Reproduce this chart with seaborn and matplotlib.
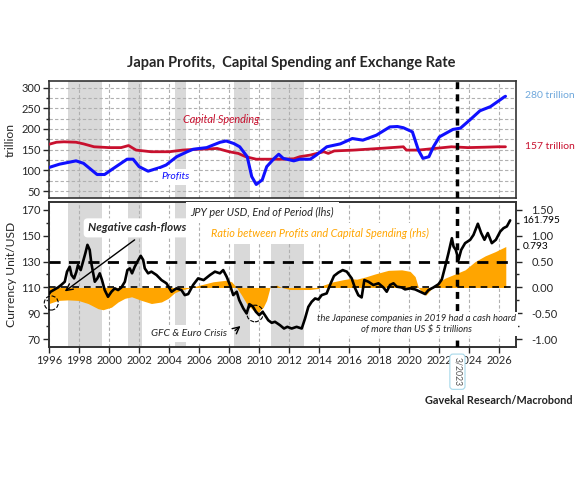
import numpy as np
import pandas as pd
import seaborn as sns
import matplotlib.pyplot as plt
from matplotlib.patches import Ellipse
from matplotlib.transforms import blended_transform_factory
from matplotlib.ticker import MultipleLocator

# top panel, trillion yen
capex_year = [1996.0, 1996.5, 1997.0, 1997.8, 1998.3, 1999.0, 2000.0, 2000.8, 2001.3, 2001.8,
              2002.8, 2004.0, 2004.9, 2005.8, 2006.7, 2007.2, 2008.0, 2008.6, 2009.1, 2009.8,
              2010.5, 2011.5, 2012.3, 2012.7, 2013.4, 2014.3, 2014.6, 2015.0, 2016.3, 2018.0,
              2019.6, 2019.8, 2020.6, 2021.7, 2022.8, 2023.9, 2025.0, 2025.9, 2026.4]
capex = [163, 168, 169, 168, 164, 157, 155, 155, 160, 149,
         145, 145, 149, 151, 152, 153, 145, 141, 133, 127,
         127, 127, 128, 133, 137, 145, 141, 147, 149, 153,
         157, 149, 149, 153, 157, 155, 156, 157, 157]

profit_year = [1996.0, 1996.7, 1997.8, 1998.3, 1999.2, 1999.7, 2000.3, 2001.2, 2001.6, 2002.0,
               2002.6, 2003.4, 2003.8, 2004.5, 2005.2, 2005.6, 2006.5, 2007.4, 2007.8, 2008.3,
               2008.7, 2009.2, 2009.5, 2009.8, 2010.2, 2010.5, 2011.0, 2011.3, 2011.6, 2012.3,
               2012.7, 2013.4, 2013.8, 2014.5, 2015.4, 2016.2, 2016.9, 2017.8, 2018.7, 2019.2,
               2019.6, 2020.2, 2020.6, 2020.9, 2021.3, 2021.6, 2022.0, 2022.9, 2023.4, 2024.0,
               2024.7, 2025.4, 2026.3, 2026.4]
profit = [107, 115, 123, 117, 90, 90, 105, 127, 127, 109,
          98, 107, 113, 133, 145, 151, 155, 168, 171, 165,
          157, 133, 85, 66, 77, 109, 129, 139, 129, 123,
          127, 127, 137, 157, 164, 177, 173, 185, 205, 206,
          203, 193, 149, 129, 133, 157, 181, 199, 202, 221,
          244, 254, 277, 279]

# bottom panel: JPY per USD (lhs)
jpy_year = [1996.0, 1996.11, 1996.38, 1996.6, 1996.82, 1997.05, 1997.2, 1997.38, 1997.5, 1997.67,
            1997.82, 1997.93, 1998.11, 1998.27, 1998.42, 1998.56, 1998.71, 1998.82, 1999.05, 1999.22,
            1999.38, 1999.53, 1999.71, 1999.93, 2000.16, 2000.38, 2000.6, 2000.82, 2001.05, 2001.22,
            2001.38, 2001.53, 2001.71, 2001.89, 2002.11, 2002.27, 2002.38, 2002.6, 2002.82, 2003.16,
            2003.49, 2003.82, 2004.16, 2004.49, 2004.82, 2005.04, 2005.27, 2005.6, 2005.93, 2006.3,
            2006.72, 2007.05, 2007.38, 2007.6, 2007.83, 2008.05, 2008.27, 2008.5, 2008.67, 2008.94,
            2009.16, 2009.34, 2009.56, 2009.78, 2010.0, 2010.23, 2010.38, 2010.6, 2010.83, 2011.05,
            2011.38, 2011.65, 2011.87, 2012.16, 2012.49, 2012.83, 2013.05, 2013.27, 2013.49, 2013.72,
            2013.94, 2014.16, 2014.49, 2014.76, 2014.98, 2015.27, 2015.56, 2015.83, 2016.16, 2016.38,
            2016.6, 2016.82, 2017.0, 2017.27, 2017.6, 2017.94, 2018.27, 2018.49, 2018.71, 2018.94,
            2019.16, 2019.49, 2019.71, 2020.05, 2020.38, 2020.71, 2021.05, 2021.27, 2021.6, 2021.94,
            2022.16, 2022.38, 2022.6, 2022.83, 2022.94, 2023.09, 2023.27, 2023.45, 2023.71, 2024.05,
            2024.27, 2024.56, 2024.78, 2025.0, 2025.22, 2025.49, 2025.76, 2026.05, 2026.27, 2026.49,
            2026.71]
jpy = [105, 106.7, 108.5, 110, 112, 114.4, 122.2, 126, 119.6, 117,
       122, 127.3, 123.4, 130, 136.4, 142.9, 139, 128.6, 114.4, 117,
       120.9, 115.7, 108, 102.8, 106.7, 109.3, 108, 110, 114.4, 123.4,
       124.7, 120.9, 126, 130, 134.4, 131.3, 124.7, 120.9, 122.2, 119.6,
       115.7, 113.2, 106.7, 109.3, 108, 104.1, 104.9, 112, 117, 115.7,
       119.6, 122.2, 120.9, 123.4, 118.3, 111.9, 104.1, 106.7, 100.2, 93.8,
       89.9, 97.1, 95.5, 91.2, 88.6, 91.2, 88.6, 84.7, 82.7, 83.5,
       80.9, 78.3, 79.6, 78.3, 79.6, 78.3, 86, 95, 98.9, 101.5,
       100.7, 104.1, 105.4, 113.2, 118.9, 121.5, 123.4, 122.2, 117, 109.5,
       104, 102.3, 115.7, 114.4, 111.9, 113.2, 110, 106.7, 111.9, 113.2,
       110.6, 110, 108.5, 109.3, 108.5, 106.7, 104.9, 108, 110, 112.5,
       116.2, 126, 136.4, 148, 141.6, 139, 131.3, 139, 144.2, 146.8,
       150.6, 159.2, 152, 146.8, 152, 144.2, 146.8, 153.2, 155.8, 157.1,
       161.8]

# bottom panel: ratio between profits and capital spending (rhs)
ratio_year = [1996.0, 1996.6, 1997.27, 1997.94, 1998.6, 1999.27, 1999.6, 2000.16, 2000.6, 2001.05,
              2001.5, 2002.16, 2002.82, 2003.49, 2003.94, 2004.38, 2004.82, 2005.49, 2006.05, 2006.94,
              2007.83, 2008.16, 2008.49, 2008.83, 2009.16, 2009.6, 2009.94, 2010.27, 2010.49, 2010.72,
              2011.16, 2011.49, 2012.05, 2012.72, 2013.38, 2013.94, 2014.27, 2014.94, 2015.6, 2016.0,
              2016.5, 2017.05, 2017.71, 2018.6, 2019.49, 2020.05, 2020.38, 2020.6, 2020.82, 2021.09,
              2021.4, 2021.82, 2022.38, 2023.05, 2023.71, 2024.38, 2025.05, 2025.71, 2026.42]
ratio = [-0.31, -0.25, -0.24, -0.25, -0.31, -0.41, -0.43, -0.38, -0.28, -0.21,
         -0.18, -0.25, -0.31, -0.28, -0.21, -0.10, -0.05, 0.0, 0.045, 0.11,
         0.14, 0.11, 0.0, -0.15, -0.31, -0.44, -0.48, -0.38, -0.25, 0.0,
         0.045, 0.0, -0.04, -0.04, -0.04, -0.02, 0.045, 0.11, 0.15, 0.17,
         0.16, 0.20, 0.26, 0.33, 0.34, 0.31, 0.21, 0.0, -0.08, -0.15,
         -0.05, 0.08, 0.18, 0.26, 0.34, 0.50, 0.61, 0.69, 0.79]

recessions = [(1997.27, 1999.56), (2001.25, 2002.16), (2004.38, 2005.1),
              (2008.3, 2009.4), (2010.78, 2012.95)]
year_ticks = list(range(1996, 2027, 2))
event_year = 2023.2

red = "#c8102e"
blue = "#1010ff"
orange = "#ffa500"
shade = "#d9d9d9"
grid_c = "#b0b0b0"

sns.set_theme(style="white")
plt.rcParams["font.family"] = ["Lato", "DejaVu Sans"]

fig = plt.figure(figsize=(5.82, 4.82), dpi=100)
ax1 = fig.add_axes([0.0842, 0.589, 0.8024, 0.243])
ax2 = fig.add_axes([0.0842, 0.280, 0.8024, 0.301])
ax3 = ax2.twinx()
ax2.set_zorder(ax3.get_zorder() + 1)
ax2.patch.set_visible(False)

# background shading and grid sit on the lowest axes of each panel
for ax in (ax1, ax3):
    for a, b in recessions:
        ax.axvspan(a, b, color=shade, lw=0, zorder=0)
    for yr in year_ticks:
        ax.axvline(yr, color=grid_c, lw=0.8, ls=(0, (3, 2)), zorder=0.5)

for ax in (ax1, ax2, ax3):
    ax.set_xlim(1996, 2027.1)
    for s in ax.spines.values():
        s.set_color("#333333")
        s.set_linewidth(1.2)
for ax in (ax1, ax2):
    ax.axvline(event_year, color="black", lw=2.5, ls=(0, (2, 1.5)), zorder=5)

# top panel
for yv in np.arange(50, 301, 25):
    ax1.axhline(yv, color=grid_c, lw=0.8, ls=(0, (3, 2)), zorder=0.5)
sns.lineplot(x=capex_year, y=capex, ax=ax1, color=red, lw=2, zorder=3)
sns.lineplot(x=profit_year, y=profit, ax=ax1, color=blue, lw=2.2, zorder=4)
ax1.set_ylim(33, 316)
ax1.set_yticks(range(50, 301, 50))
ax1.yaxis.set_minor_locator(MultipleLocator(25))
ax1.set_xticks(year_ticks)
ax1.tick_params(axis="x", bottom=False, labelbottom=False)
ax1.tick_params(axis="y", which="both", left=True, length=4, width=1, labelsize=8, pad=2)
ax1.tick_params(axis="y", which="minor", length=2)
ax1.set_ylabel("trillion", fontsize=8.7, labelpad=4)
ax1.text(2007.45, 224, "Capital Spending", color=red, fontsize=7.8, style="italic",
         ha="center", va="center", zorder=6)
ax1.text(2004.45, 84, "Profits", color=blue, fontsize=7.5, style="italic", ha="center",
         va="center", zorder=6, bbox=dict(boxstyle="square,pad=0.35", fc="white", ec="none"))
tr1 = blended_transform_factory(ax1.transAxes, ax1.transData)
ax1.text(1.019, 280, "280 trillion", color="#6fa8dc", fontsize=7.5, transform=tr1, va="center")
ax1.text(1.019, 157, "157 trillion", color=red, fontsize=7.5, transform=tr1, va="center")

# bottom panel
ax3.fill_between(ratio_year, 0, ratio, color=orange, lw=0, zorder=1)
ax2.axhline(130, color="black", lw=2, ls=(0, (4, 3)), zorder=3)
ax2.axhline(110, color="black", lw=1.2, ls=(0, (4, 3)), zorder=3)
sns.lineplot(x=jpy_year, y=jpy, ax=ax2, color="black", lw=1.9, zorder=4)
ax2.set_ylim(64, 176)
ax3.set_ylim(-1.15, 1.65)
ax2.set_yticks(range(70, 171, 20))
ax2.yaxis.set_minor_locator(MultipleLocator(10))
ax3.set_yticks([-1.0, -0.5, 0.0, 0.5, 1.0, 1.5])
ax3.set_yticklabels(["-1.00", "-0.50", "0.00", "0.50", "1.00", "1.50"])
ax3.yaxis.set_minor_locator(MultipleLocator(0.25))
ax2.set_xticks(year_ticks)
ax2.tick_params(axis="x", bottom=True, length=4, width=1, labelsize=8, pad=2)
ax2.tick_params(axis="y", which="both", left=True, length=4, width=1, labelsize=8, pad=2)
ax2.tick_params(axis="y", which="minor", length=2)
ax3.tick_params(axis="y", which="both", right=True, length=4, width=1, labelsize=8, pad=7)
ax3.tick_params(axis="y", which="minor", length=2)
ax3.grid(False)
ax2.set_ylabel("Currency Unit/USD", fontsize=8.7, labelpad=3)
ax2.set_xlabel("")

tr2 = blended_transform_factory(ax2.transAxes, ax2.transData)
ax2.text(1.0135, 161.8, "161.795", fontsize=7.3, transform=tr2, va="center", color="black")
ax2.text(1.0135, 110 + 40 * 0.793, "0.793", fontsize=7.3, transform=tr2, va="center",
         color="black")

ax2.text(2010.2, 167.7, "JPY per USD, End of Period (lhs)", fontsize=7.8, style="italic",
         ha="center", va="center", zorder=6,
         bbox=dict(boxstyle="square,pad=0.45", fc="white", ec="none"))
ax2.text(2014.05, 151.4, "Ratio between Profits and Capital Spending (rhs)", fontsize=7.8,
         style="italic", color=orange, ha="center", va="center", zorder=6,
         bbox=dict(boxstyle="square,pad=0.45", fc="white", ec="none"))
ax2.text(2001.85, 156, "Negative cash-flows", fontsize=8.3, style="italic", weight="bold",
         ha="center", va="center", zorder=6,
         bbox=dict(boxstyle="round,pad=0.35", fc="white", ec="none"))
ax2.annotate("", xy=(1996.9, 105.7), xytext=(2001.85, 148),
             arrowprops=dict(arrowstyle="->", color="black", lw=1), zorder=6)
ax2.text(2005.3, 74.7, "GFC & Euro Crisis", fontsize=7.5, style="italic", ha="center",
         va="center", zorder=6, bbox=dict(boxstyle="square,pad=0.4", fc="white", ec="none"))
ax2.annotate("", xy=(2008.9, 81.6), xytext=(2008.25, 75.4),
             arrowprops=dict(arrowstyle="->", color="black", lw=1), zorder=6)
ax2.text(2020.5, 81.6, "the Japanese companies in 2019 had a cash hoard\nof more than US $ 5 trillions",
         fontsize=6.8, style="italic", ha="center", va="center", zorder=6, linespacing=1.25,
         bbox=dict(boxstyle="square,pad=0.2", fc="white", ec="none"))
ax2.add_patch(Ellipse((1996.15, 98), 0.93, 10.9, fill=False, ec="black", lw=0.8, ls="--",
                      clip_on=False, zorder=6))
ax2.add_patch(Ellipse((2009.72, 89.9), 1.1, 12.8, fill=False, ec="black", lw=0.8, ls="--",
                      zorder=6))

trx = blended_transform_factory(ax2.transData, ax2.transAxes)
ax2.text(event_year, -0.17, "3/2023", rotation=-90, fontsize=6.3, color="#555555",
         transform=trx, ha="center", va="center", zorder=10, clip_on=False,
         bbox=dict(boxstyle="round,pad=0.35", fc="white", ec="#a6d8ea", lw=0.8))

fig.text(0.5, 0.869, "Japan Profits,  Capital Spending anf Exchange Rate", fontsize=10.5,
         weight="bold", ha="center", va="center")
fig.text(0.9845, 0.17, "Gavekal Research/Macrobond", fontsize=7.8, weight="bold",
         ha="right", va="center", color="#222222")

fig.savefig("out.png", dpi=100)
